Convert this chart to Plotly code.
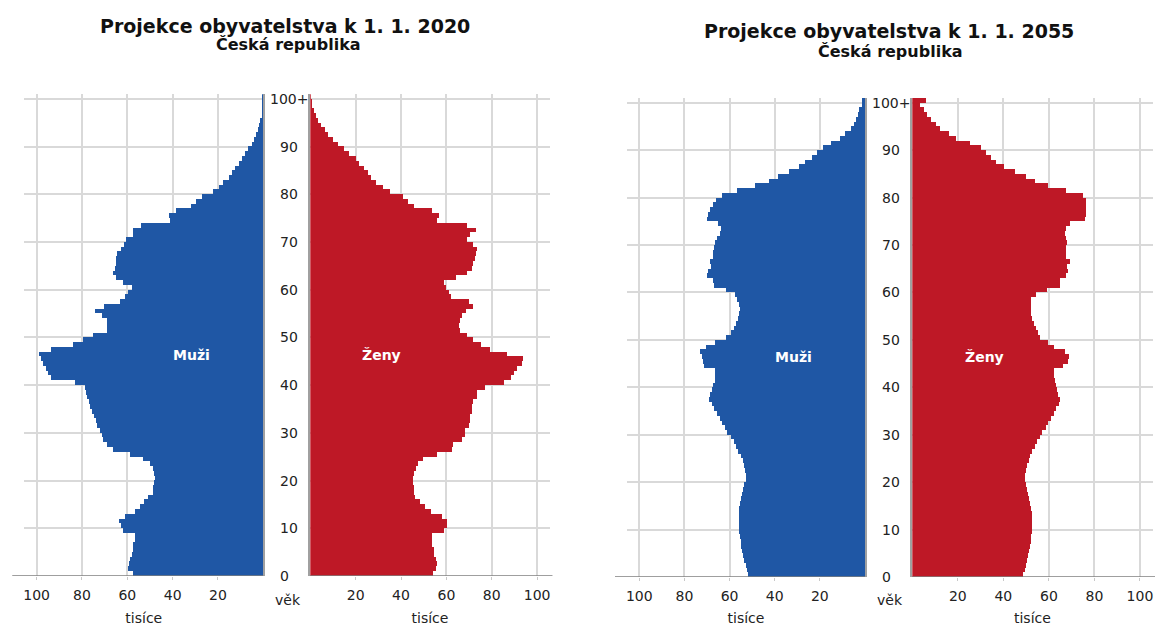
import plotly.graph_objects as go

# ---------------- data ----------------
ages = list(range(0, 101))
age_tick_vals = [0, 10, 20, 30, 40, 50, 60, 70, 80, 90, 100]
age_tick_text = ["0", "10", "20", "30", "40", "50", "60", "70", "80", "90", "100+"]
x_tick_vals = [20, 40, 60, 80, 100]
x_tick_text = ["20", "40", "60", "80", "100"]

men_2020 = [57.4, 59.6, 59.1, 58.8, 58.0, 57.6, 57.4, 56.6, 56.6, 62.0,
            62.9, 63.5, 61.0, 56.6, 54.4, 52.6, 51.0, 48.8, 48.5, 48.1,
            47.8, 48.2, 48.8, 49.7, 52.9, 58.8, 66.2, 68.8, 70.6, 71.3,
            71.8, 73.2, 73.8, 74.6, 75.3, 76.2, 76.8, 77.5, 78.0, 78.7,
            83.0, 93.8, 94.9, 96.0, 97.0, 98.2, 98.8, 93.4, 84.0, 79.4,
            75.0, 68.7, 68.7, 69.1, 70.9, 74.3, 70.3, 63.2, 61.0, 59.6,
            58.0, 61.8, 65.1, 66.2, 65.4, 65.0, 64.7, 64.3, 62.5, 61.5,
            60.3, 57.4, 57.6, 53.7, 41.0, 41.5, 38.5, 32.0, 29.4, 26.8,
            22.0, 19.4, 17.6, 15.0, 13.7, 12.2, 10.7, 9.3, 7.8, 6.6,
            5.0, 4.0, 3.0, 2.4, 2.0, 1.5, 0.7, 0.5, 0.3, 0.2, 0.1]

women_2020 = [54.3, 55.5, 56.2, 55.5, 54.8, 54.5, 54.0, 53.7, 54.0, 59.2,
              60.3, 60.6, 58.4, 53.3, 50.8, 48.5, 46.4, 46.0, 45.7, 45.2,
              45.2, 46.0, 46.7, 47.4, 49.9, 55.8, 62.8, 63.1, 66.8, 68.4,
              68.4, 70.1, 70.4, 70.4, 71.6, 71.6, 71.9, 73.5, 73.8, 77.2,
              85.5, 88.4, 89.9, 91.4, 93.3, 93.9, 87.0, 79.2, 75.3, 71.9,
              69.4, 66.0, 65.7, 66.0, 67.2, 68.7, 72.0, 70.1, 62.1, 61.3,
              59.9, 59.2, 64.3, 69.0, 71.6, 72.0, 72.6, 73.1, 73.8, 71.9,
              69.4, 70.4, 73.1, 69.4, 55.8, 57.0, 53.7, 46.0, 43.0, 41.1,
              35.3, 32.1, 29.1, 26.9, 25.5, 24.0, 21.8, 20.1, 17.4, 15.2,
              12.3, 10.1, 7.9, 6.4, 5.0, 3.7, 2.5, 1.6, 1.0, 0.6, 0.3]

men_2055 = [52.0, 52.4, 52.9, 53.5, 53.9, 54.4, 54.8, 55.2, 55.5, 55.8,
            56.0, 56.0, 56.0, 55.8, 55.7, 55.4, 54.9, 54.4, 53.9, 53.5,
            52.9, 52.9, 53.2, 53.6, 54.2, 55.1, 56.1, 57.2, 58.3, 59.5,
            61.0, 62.3, 63.5, 64.5, 65.7, 66.9, 68.0, 69.0, 68.7, 68.0,
            67.5, 66.5, 66.5, 66.5, 71.6, 71.9, 72.4, 73.1, 70.5, 66.5,
            61.5, 59.5, 58.0, 57.2, 56.1, 55.7, 55.4, 55.7, 56.6, 57.6,
            61.6, 66.9, 67.2, 69.9, 69.4, 68.4, 68.7, 67.5, 67.2, 66.9,
            66.5, 65.7, 64.5, 64.0, 65.4, 69.9, 69.4, 68.7, 67.5, 66.0,
            63.5, 56.9, 48.7, 42.8, 38.4, 33.5, 29.5, 26.6, 23.6, 21.4,
            18.8, 15.2, 11.1, 8.9, 6.4, 4.7, 4.0, 3.0, 2.5, 1.5, 1.5]

women_2055 = [48.8, 49.5, 49.9, 50.5, 51.0, 51.4, 51.7, 52.1, 52.4, 52.7,
              52.9, 52.9, 52.9, 52.7, 52.4, 52.0, 51.4, 51.0, 50.5, 49.9,
              49.5, 49.5, 49.9, 50.5, 51.4, 52.0, 52.9, 53.9, 54.9, 56.1,
              57.2, 58.7, 59.7, 61.2, 62.2, 63.4, 64.6, 65.2, 64.1, 63.7,
              63.4, 62.7, 62.2, 62.2, 66.3, 68.5, 69.0, 67.0, 62.2, 59.7,
              56.4, 55.3, 54.3, 53.4, 52.9, 52.4, 52.4, 52.4, 52.4, 54.6,
              59.3, 64.9, 64.9, 67.5, 68.5, 68.1, 69.3, 67.5, 67.5, 67.8,
              68.1, 67.5, 67.1, 67.5, 69.3, 75.8, 76.6, 76.6, 76.6, 76.3,
              75.1, 67.5, 59.7, 53.9, 49.9, 45.1, 40.3, 37.0, 34.8, 32.6,
              30.5, 25.6, 19.5, 16.3, 12.4, 10.4, 8.5, 6.6, 5.1, 3.7, 6.0]

titles = ["Projekce obyvatelstva k 1. 1. 2020", "Projekce obyvatelstva k 1. 1. 2055"]
subtitle = "Česká republika"
men_label = "Muži"
women_label = "Ženy"
age_axis_label = "věk"
value_axis_label = "tisíce"

# ---------------- style / layout ----------------
W, H = 1155, 626
BLUE = "#1f57a5"
RED = "#be1826"
GRID = "#d9d9d9"
VLINE = "#a0a0a0"
BASE = "#7f7f7f"
FONT = "DejaVu Sans"
XMAX = 105.5
YMAX = 101

def fx(p):
    return p / W

def fy(p):
    return 1 - p / H

# pixel geometry of each pyramid: men x-domain, women x-domain, y-domain (bottom px, top px)
charts = [
    dict(men=(24.2, 263.3), women=(310.3, 549.6), y=(576.0, 94.2),
         title_y=25.5, sub_y=45.0, title_x=285.0, sub_x=288.5,
         men_data=men_2020, women_data=women_2020, title=titles[0]),
    dict(men=(626.9, 865.0), women=(912.3, 1152.5), y=(577.0, 97.96),
         title_y=31.0, sub_y=51.0, title_x=889.0, sub_x=890.0,
         men_data=men_2055, women_data=women_2055, title=titles[1]),
]

fig = go.Figure()
layout = dict(
    width=W, height=H,
    margin=dict(l=0, r=0, t=0, b=0),
    paper_bgcolor="white", plot_bgcolor="white",
    showlegend=False, bargap=0,
    font=dict(family=FONT, size=14, color="#222222"),
)
annotations = []
shapes = []
age_mid = [a + 0.5 for a in ages]

for i, ch in enumerate(charts):
    mi = 2 * i + 1
    wi = 2 * i + 2
    mx = "x" if mi == 1 else f"x{mi}"
    my = "y" if mi == 1 else f"y{mi}"
    wx = f"x{wi}"
    wy = f"y{wi}"
    ydom = [fy(ch["y"][0]), fy(ch["y"][1])]

    fig.add_trace(go.Bar(x=ch["men_data"], y=age_mid, orientation="h", width=1,
                         marker=dict(color=BLUE, line=dict(width=0)),
                         xaxis=mx, yaxis=my, hoverinfo="x+y"))
    fig.add_trace(go.Bar(x=ch["women_data"], y=age_mid, orientation="h", width=1,
                         marker=dict(color=RED, line=dict(width=0)),
                         xaxis=wx, yaxis=wy, hoverinfo="x+y"))

    common_x = dict(tickvals=x_tick_vals, ticktext=x_tick_text, showgrid=True,
                    gridcolor=GRID, gridwidth=1.5, zeroline=False, showline=False,
                    ticks="outside", ticklen=3, tickcolor="#c8c8c8", tickwidth=1,
                    ticklabelstandoff=3,
                    tickfont=dict(family=FONT, size=14, color="#222222"),
                    automargin=False, fixedrange=True,
                    title=dict(text=value_axis_label, standoff=11,
                               font=dict(family=FONT, size=14, color="#222222")))
    common_y = dict(range=[0, YMAX], tickvals=age_tick_vals, showgrid=True,
                    gridcolor=GRID, gridwidth=1.5, zeroline=False,
                    showticklabels=False, ticks="", domain=ydom,
                    showline=True, linecolor=VLINE, linewidth=1.5,
                    automargin=False, fixedrange=True)

    layout["xaxis" + ("" if mi == 1 else str(mi))] = dict(
        common_x, domain=[fx(ch["men"][0]), fx(ch["men"][1])],
        range=[XMAX, 0], anchor=my)
    layout["yaxis" + ("" if mi == 1 else str(mi))] = dict(
        common_y, anchor=mx, side="right")
    layout["xaxis" + str(wi)] = dict(
        common_x, domain=[fx(ch["women"][0]), fx(ch["women"][1])],
        range=[0, XMAX], anchor=wy)
    layout["yaxis" + str(wi)] = dict(common_y, anchor=wx, side="left")

    # baselines
    shapes.append(dict(type="line", xref=mx + " domain", yref=my,
                       x0=-0.05, x1=1, y0=0, y1=0,
                       line=dict(color=BASE, width=1.5)))
    shapes.append(dict(type="line", xref=wx + " domain", yref=wy,
                       x0=0, x1=1.012, y0=0, y1=0,
                       line=dict(color=BASE, width=1.5)))

    # age labels between the halves
    men_right = ch["men"][1]
    for v, t in zip(age_tick_vals, age_tick_text):
        off = 5.0 if t.endswith("+") else 14.5
        annotations.append(dict(x=fx(men_right + off), y=v, xref="paper", yref=wy,
                                text=t, showarrow=False, xanchor="left",
                                yanchor="middle",
                                font=dict(family=FONT, size=14, color="#222222")))
    annotations.append(dict(x=fx(men_right + 24.5), y=fy(600), xref="paper",
                            yref="paper", text=age_axis_label, showarrow=False,
                            xanchor="center", yanchor="middle",
                            font=dict(family=FONT, size=14, color="#222222")))
    # Muži / Ženy
    annotations.append(dict(x=31.5, y=46.3, xref=mx, yref=my, text="<b>%s</b>" % men_label,
                            showarrow=False, xanchor="center", yanchor="middle",
                            font=dict(family=FONT, size=14, color="white")))
    annotations.append(dict(x=31.5, y=46.3, xref=wx, yref=wy, text="<b>%s</b>" % women_label,
                            showarrow=False, xanchor="center", yanchor="middle",
                            font=dict(family=FONT, size=14, color="white")))
    # titles
    annotations.append(dict(x=fx(ch["title_x"]), y=fy(ch["title_y"]), xref="paper",
                            yref="paper", text="<b>%s</b>" % ch["title"], showarrow=False,
                            xanchor="center", yanchor="middle",
                            font=dict(family=FONT, size=19, color="#111111")))
    annotations.append(dict(x=fx(ch["sub_x"]), y=fy(ch["sub_y"]), xref="paper",
                            yref="paper", text="<b>%s</b>" % subtitle, showarrow=False,
                            xanchor="center", yanchor="middle",
                            font=dict(family=FONT, size=16, color="#111111")))

layout["annotations"] = annotations
layout["shapes"] = shapes
fig.update_layout(**layout)
fig.write_html(
    "out.html",
    config={"displayModeBar": False},
    post_script="document.body.style.margin='0';document.body.style.overflow='hidden';",
)
